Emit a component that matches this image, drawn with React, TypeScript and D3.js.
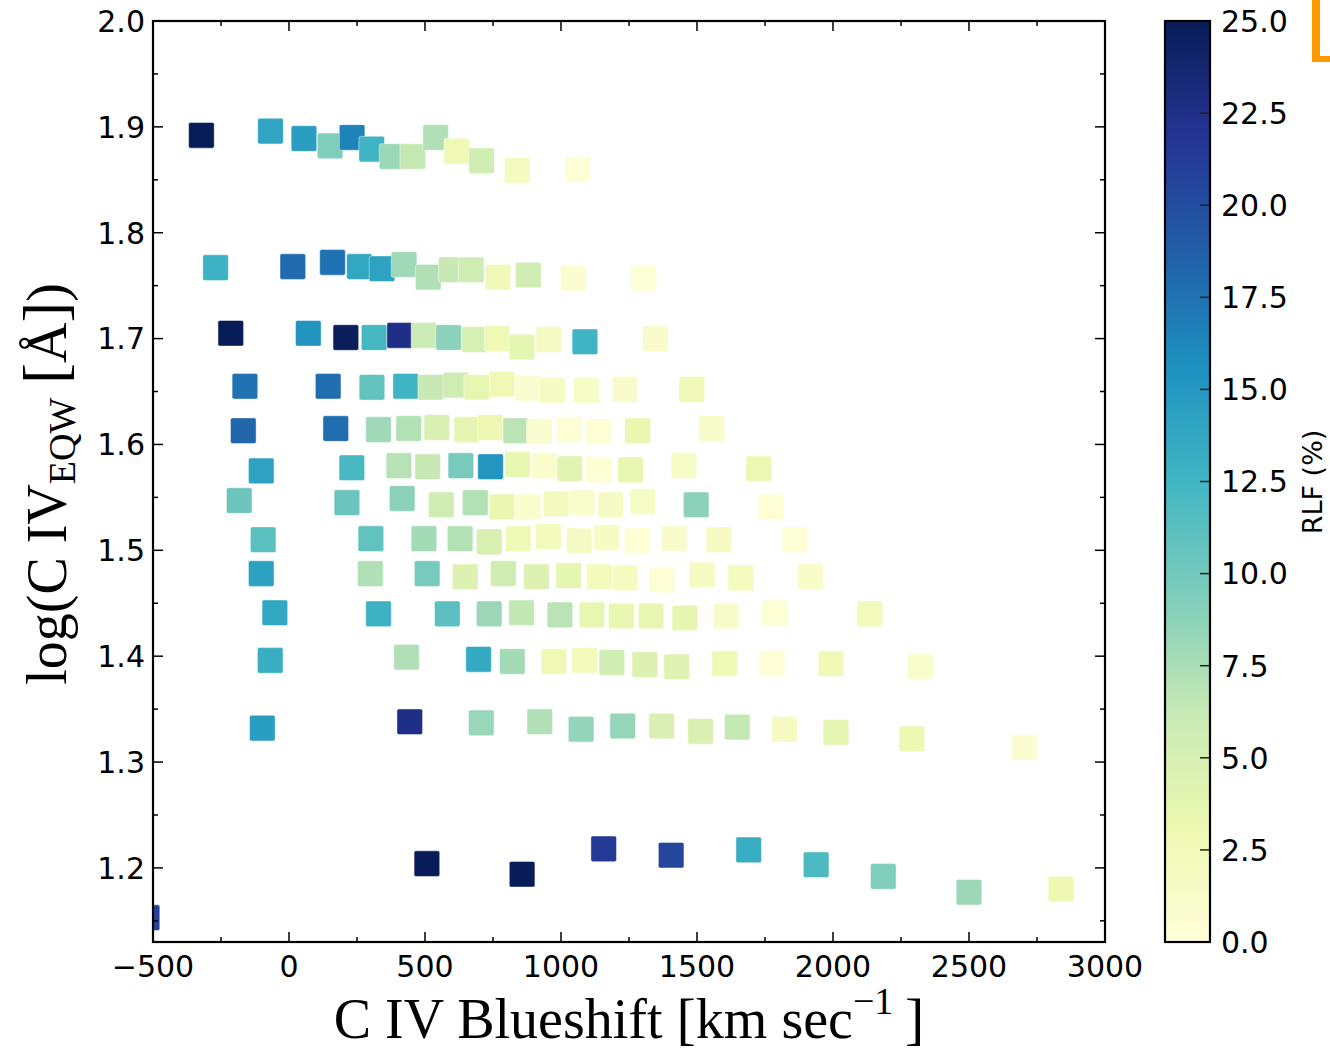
import React from "react";
import * as d3 from "d3";

// C IV blueshift (km/s), log equivalent width and radio-loud fraction (%),
// listed row by row of the binned grid.
const blueshift = [
  -322, -68, 55, 151, 232, 304, 379, 455, 539, 617, 708, 839, 1062,
  -270, 14, 160, 259, 342, 423, 512, 597, 670, 768, 880, 1045, 1304,
  -214, 71, 209, 313, 407, 496, 587, 681, 765, 856, 955, 1088, 1347,
  -162, 144, 305, 429, 521, 613, 690, 783, 878, 968, 1093, 1235, 1481,
  -168, 172, 329, 440, 543, 654, 740, 834, 920, 1030, 1138, 1282, 1554,
  -102, 231, 404, 510, 632, 741, 841, 939, 1032, 1138, 1256, 1452, 1727,
  -183, 213, 416, 560, 685, 783, 879, 982, 1078, 1183, 1301, 1497, 1773,
  -95, 301, 496, 629, 736, 843, 953, 1067, 1167, 1280, 1416, 1580, 1860,
  -102, 299, 508, 648, 788, 910, 1028, 1141, 1236, 1370, 1519, 1661, 1918,
  -52, 329, 582, 736, 855, 996, 1114, 1222, 1331, 1455, 1607, 1786, 2135,
  -69, 432, 697, 821, 974, 1087, 1187, 1308, 1425, 1602, 1776, 1993, 2322,
  -98, 444, 707, 922, 1074, 1227, 1370, 1513, 1648, 1822, 2011, 2290, 2704,
  -522, 507, 857, 1157, 1405, 1690, 1938, 2185, 2500, 2838,
];

const logEqw = [
  1.892, 1.896, 1.889, 1.882, 1.89, 1.879, 1.872, 1.872, 1.89, 1.877, 1.868, 1.859, 1.86,
  1.767, 1.768, 1.772, 1.768, 1.766, 1.77, 1.758, 1.765, 1.765, 1.758, 1.76, 1.757, 1.757,
  1.705, 1.705, 1.701, 1.701, 1.703, 1.703, 1.701, 1.699, 1.7, 1.692, 1.699, 1.697, 1.7,
  1.655, 1.655, 1.654, 1.655, 1.654, 1.656, 1.654, 1.657, 1.653, 1.651, 1.651, 1.652, 1.652,
  1.613, 1.615, 1.614, 1.615, 1.616, 1.614, 1.616, 1.613, 1.612, 1.614, 1.612, 1.613, 1.615,
  1.575, 1.578, 1.58, 1.579, 1.58, 1.579, 1.581, 1.58, 1.577, 1.576, 1.576, 1.58, 1.577,
  1.547, 1.545, 1.549, 1.543, 1.545, 1.541, 1.541, 1.544, 1.545, 1.543, 1.546, 1.543, 1.541,
  1.51, 1.511, 1.511, 1.511, 1.508, 1.511, 1.513, 1.509, 1.512, 1.509, 1.511, 1.51, 1.51,
  1.478, 1.478, 1.478, 1.475, 1.478, 1.475, 1.476, 1.475, 1.474, 1.472, 1.477, 1.474, 1.475,
  1.441, 1.44, 1.44, 1.44, 1.441, 1.439, 1.439, 1.438, 1.438, 1.436, 1.438, 1.441, 1.44,
  1.396, 1.399, 1.397, 1.395, 1.395, 1.396, 1.394, 1.392, 1.39, 1.393, 1.393, 1.393, 1.39,
  1.332, 1.338, 1.337, 1.338, 1.331, 1.334, 1.334, 1.329, 1.333, 1.331, 1.328, 1.322, 1.314,
  1.153, 1.204, 1.194, 1.218, 1.212, 1.217, 1.203, 1.192, 1.177, 1.18,
];

const rlf = [
  25, 14, 14.5, 9.4, 16.5, 12.7, 8.2, 6.3, 7.2, 2.8, 5.5, 2, 0.3,
  12.8, 18, 17.5, 13.8, 14.2, 8, 7.2, 6.2, 5.6, 2.5, 5.5, 0.7, 0.5,
  25, 15.3, 24.8, 12.3, 22.5, 5.8, 8.8, 5, 2.8, 3.8, 1.8, 12.7, 1.2,
  17.5, 17.8, 10.8, 12.7, 6.2, 5.6, 3.6, 2.8, 0.8, 1.7, 1.5, 1.2, 2.6,
  18.3, 17.8, 8, 7.1, 4.8, 3.7, 3, 6.8, 0.8, 0.4, 0.4, 3.3, 1.2,
  14.2, 12.1, 7, 6.2, 9.8, 15.2, 3.6, 1.1, 4, 0.5, 3.5, 1.5, 3.2,
  10.3, 10.4, 8.8, 5.6, 7.1, 3.3, 1, 2.2, 1, 1.6, 1.5, 8.8, 0.4,
  11.2, 10.9, 7.8, 7.1, 4.8, 2.7, 2.3, 1.6, 1.7, 0.4, 1.2, 1.8, 0.4,
  14.3, 7.3, 9.8, 4.5, 5.6, 4.5, 3.8, 2.3, 2, 0.4, 1.8, 2, 1.3,
  13.8, 12.8, 11.1, 8.1, 6.4, 6.8, 3.6, 3.4, 3.5, 3.7, 1.2, 0.4, 2.4,
  13.2, 7.2, 13.5, 7.8, 2.8, 2.4, 5.5, 4.4, 4.1, 2.7, 0.3, 2.6, 1,
  14.5, 22.5, 8.3, 7.2, 8.5, 8.4, 4.7, 4.7, 6.3, 1.8, 3.7, 3.1, 0.8,
  21, 25, 25, 21.5, 20.5, 13.3, 11.9, 9.4, 8.1, 3,
];

const xMajorTicks = [-500, 0, 500, 1000, 1500, 2000, 2500, 3000];
const xMinorTicks = [-250, 250, 750, 1250, 1750, 2250, 2750];
const yMajorTicks = [1.2, 1.3, 1.4, 1.5, 1.6, 1.7, 1.8, 1.9, 2.0];
const yMinorTicks = [1.15, 1.25, 1.35, 1.45, 1.55, 1.65, 1.75, 1.85, 1.95];
const cbarTicks = [0, 2.5, 5, 7.5, 10, 12.5, 15, 17.5, 20, 22.5, 25];

// YlGnBu anchor colours, spread evenly over the colour range
const ylGnBu = [
  "#ffffd9", "#edf8b1", "#c7e9b4", "#7fcdbb", "#41b6c4",
  "#1d91c0", "#225ea8", "#253494", "#081d58",
];

const W = 1330;
const H = 1051;
const plot = { left: 153, right: 1105, top: 21, bottom: 942 };
const cbar = { left: 1165, right: 1210 };
const MARK = 25.6;
const SANS = "'DejaVu Sans', sans-serif";
const SERIF = "'Liberation Serif', 'DejaVu Serif', serif";

export default function App() {
  const x = d3.scaleLinear().domain([-500, 3000]).range([plot.left, plot.right]);
  const y = d3.scaleLinear().domain([1.13, 2.0]).range([plot.bottom, plot.top]);
  const cDomain = d3.range(ylGnBu.length).map((i) => (i * 25) / (ylGnBu.length - 1));
  const color = d3
    .scaleLinear<string>()
    .domain(cDomain)
    .range(ylGnBu)
    .interpolate(d3.interpolateRgb)
    .clamp(true);
  const cy = d3.scaleLinear().domain([0, 25]).range([plot.bottom, plot.top]);

  const points = blueshift.map((b, i) => ({ b, w: logEqw[i], r: rlf[i] }));
  const fmtX = (v: number) => (v < 0 ? "\u2212" + Math.abs(v) : String(v));

  const tickStroke = { stroke: "#000", strokeWidth: 1.5 };

  return (
    <svg
      width={W}
      height={H}
      viewBox={`0 0 ${W} ${H}`}
      style={{ position: "absolute", left: 0, top: 0, background: "#fff" }}
    >
      <defs>
        <clipPath id="plot-clip">
          <rect
            x={plot.left}
            y={plot.top}
            width={plot.right - plot.left}
            height={plot.bottom - plot.top}
          />
        </clipPath>
        <linearGradient id="cbar-grad" x1="0" y1="1" x2="0" y2="0">
          {ylGnBu.map((c, i) => (
            <stop key={i} offset={`${(i / (ylGnBu.length - 1)) * 100}%`} stopColor={c} />
          ))}
        </linearGradient>
      </defs>

      <rect x={0} y={0} width={W} height={H} fill="#fff" />

      {/* scatter markers */}
      <g clipPath="url(#plot-clip)">
        {points.map((p, i) => (
          <rect
            key={i}
            x={x(p.b) - MARK / 2}
            y={y(p.w) - MARK / 2}
            width={MARK}
            height={MARK}
            rx={1.8}
            fill={color(p.r)}
            stroke="#ffffff"
            strokeOpacity={0.55}
            strokeWidth={0.8}
          />
        ))}
      </g>

      {/* inward ticks on all four sides */}
      <g>
        {xMajorTicks.map((v) => (
          <g key={`xM${v}`}>
            <line x1={x(v)} x2={x(v)} y1={plot.bottom} y2={plot.bottom - 10} {...tickStroke} />
            <line x1={x(v)} x2={x(v)} y1={plot.top} y2={plot.top + 10} {...tickStroke} />
          </g>
        ))}
        {xMinorTicks.map((v) => (
          <g key={`xm${v}`}>
            <line x1={x(v)} x2={x(v)} y1={plot.bottom} y2={plot.bottom - 5} {...tickStroke} />
            <line x1={x(v)} x2={x(v)} y1={plot.top} y2={plot.top + 5} {...tickStroke} />
          </g>
        ))}
        {yMajorTicks.map((v) => (
          <g key={`yM${v}`}>
            <line x1={plot.left} x2={plot.left + 10} y1={y(v)} y2={y(v)} {...tickStroke} />
            <line x1={plot.right} x2={plot.right - 10} y1={y(v)} y2={y(v)} {...tickStroke} />
          </g>
        ))}
        {yMinorTicks.map((v) => (
          <g key={`ym${v}`}>
            <line x1={plot.left} x2={plot.left + 5} y1={y(v)} y2={y(v)} {...tickStroke} />
            <line x1={plot.right} x2={plot.right - 5} y1={y(v)} y2={y(v)} {...tickStroke} />
          </g>
        ))}
      </g>

      {/* axes frame */}
      <rect
        x={plot.left}
        y={plot.top}
        width={plot.right - plot.left}
        height={plot.bottom - plot.top}
        fill="none"
        stroke="#000"
        strokeWidth={2.2}
      />

      {/* tick labels */}
      <g fontFamily={SANS} fontSize={30} fill="#000">
        {xMajorTicks.map((v) => (
          <text key={`xl${v}`} x={x(v)} y={977} textAnchor="middle">
            {fmtX(v)}
          </text>
        ))}
        {yMajorTicks.map((v) => (
          <text key={`yl${v}`} x={145} y={y(v)} dy="0.36em" textAnchor="end">
            {v.toFixed(1)}
          </text>
        ))}
      </g>

      {/* axis titles */}
      <text
        x={629}
        y={1038}
        textAnchor="middle"
        fontFamily={SERIF}
        fontSize={56}
        fill="#000"
      >
        <tspan>C IV Blueshift </tspan>
        <tspan fontSize={58}>[</tspan>
        <tspan>km sec</tspan>
        <tspan fontSize={38} dy={-24}>
          {"\u22121"}
        </tspan>
        <tspan fontSize={58} dy={24}>
          {"\u2009]"}
        </tspan>
      </text>
      <text
        transform="translate(66,484) rotate(-90)"
        textAnchor="middle"
        fontFamily={SERIF}
        fontSize={56}
        fill="#000"
      >
        <tspan>log(C IV</tspan>
        <tspan fontSize={38} dy={9}>
          EQW
        </tspan>
        <tspan dy={-9}> </tspan>
        <tspan fontSize={62}>[</tspan>
        <tspan>Å</tspan>
        <tspan fontSize={62}>]</tspan>
        <tspan>)</tspan>
      </text>

      {/* colour bar */}
      <rect
        x={cbar.left}
        y={plot.top}
        width={cbar.right - cbar.left}
        height={plot.bottom - plot.top}
        fill="url(#cbar-grad)"
      />
      {cbarTicks.map((v) => (
        <line
          key={`ct${v}`}
          x1={cbar.right}
          x2={cbar.right - 10}
          y1={cy(v)}
          y2={cy(v)}
          stroke="#222"
          strokeWidth={1.5}
        />
      ))}
      <rect
        x={cbar.left}
        y={plot.top}
        width={cbar.right - cbar.left}
        height={plot.bottom - plot.top}
        fill="none"
        stroke="#000"
        strokeWidth={2.2}
      />
      <g fontFamily={SANS} fontSize={30} fill="#000">
        {cbarTicks.map((v) => (
          <text key={`cl${v}`} x={1221} y={cy(v)} dy="0.36em" textAnchor="start">
            {v.toFixed(1)}
          </text>
        ))}
      </g>
      <text
        transform="translate(1322,482) rotate(-90)"
        textAnchor="middle"
        fontFamily={SANS}
        fontSize={27}
        fill="#000"
      >
        RLF (%)
      </text>

      {/* orange corner mark */}
      <rect x={1312} y={0} width={8} height={62} fill="#ff9900" />
      <rect x={1312} y={56} width={18} height={6} fill="#ff9900" />
    </svg>
  );
}
